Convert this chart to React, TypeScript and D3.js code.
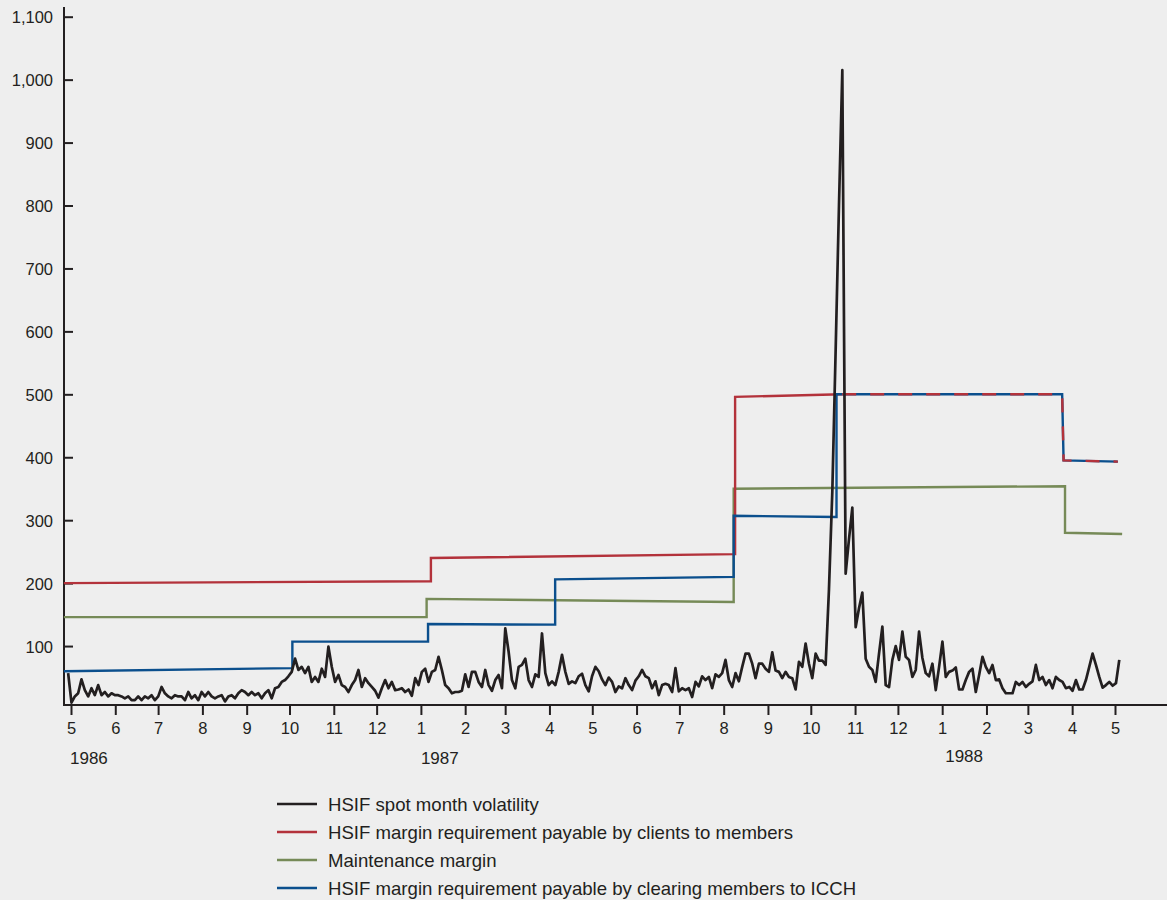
import React, { useEffect, useRef } from 'react';
import * as d3 from 'd3';

const WIDTH = 1167;
const HEIGHT = 900;

const yTicks = [100, 200, 300, 400, 500, 600, 700, 800, 900, 1000, 1100];

const yearLabels = [
  { label: '1986', date: '1986-05-01' },
  { label: '1987', date: '1987-01-01' },
  { label: '1988', date: '1988-01-01' },
];

const seriesNames = [
  'HSIF spot month volatility',
  'HSIF margin requirement payable by clients to members',
  'Maintenance margin',
  'HSIF margin requirement payable by clearing members to ICCH',
];

const volatilityFrom = '1986-04-29';
const volatilityTo = '1988-05-04';
const volatility = [
  57, 10, 20, 25, 47, 30, 20, 33, 22, 38,
  22, 27, 20, 25, 22, 22, 20, 17, 20, 14,
  14, 20, 14, 20, 17, 22, 14, 20, 35, 25,
  20, 17, 22, 20, 20, 14, 27, 17, 22, 14,
  27, 20, 27, 20, 17, 20, 22, 12, 20, 22,
  17, 25, 30, 27, 22, 27, 22, 25, 17, 25,
  30, 17, 33, 35, 43,
  46, 52, 59, 80, 62, 67, 57, 67, 43, 51,
  43, 64, 51, 99, 67, 43, 54, 38, 35, 27,
  38, 46, 62, 35, 49, 41, 35, 29, 18, 33,
  46, 33, 43, 30, 31, 33, 27, 31, 21, 49,
  38, 59, 64, 43, 59, 62, 83, 62, 38, 33,
  25, 27, 27, 29, 55, 35, 59, 59, 43, 35,
  62, 38, 29, 46, 54,
  33, 128, 91, 46, 33, 67, 70, 80, 46, 35,
  55, 51, 120, 57, 38, 44, 38, 59, 86, 59,
  40, 44, 41, 52, 56, 38, 28, 52, 67, 60,
  47, 38, 50, 43, 27, 36, 33, 49, 38, 30,
  45, 52, 62, 52, 49, 33, 44, 22, 38, 40,
  38, 27, 65, 28, 33, 30, 33, 19, 43, 36,
  52, 46, 51, 33, 55, 51,
  57, 78, 46, 35, 57, 44, 67, 88, 88, 72,
  49, 72, 72, 64, 59, 90, 61, 59, 49, 59,
  51, 49, 31, 75, 67, 104, 72, 49, 88, 77,
  77, 70, 190, 345, 570, 800, 1015, 215, 270, 320,
  130, 160, 185, 80, 67, 62, 43, 88, 131, 38,
  35, 78, 100, 78, 123, 83, 78,
  51, 62, 123, 81, 57, 52, 72, 30, 67, 107,
  51, 59, 61, 66, 31, 31, 46, 59, 64, 27,
  54, 83, 67, 57, 70, 46, 47, 33, 25, 25,
  25, 43, 38, 43, 35, 40, 44, 70, 46, 51,
  38, 46, 33, 51, 46, 43, 33, 35, 29, 46,
  31, 31, 46, 67, 88, 70, 51, 34, 38, 43,
  37, 41, 78,
];

const clientsMargin: [string, number][] = [
  ['1986-04-26', 200], ['1987-01-08', 203], ['1987-01-08', 240],
  ['1987-08-09', 246], ['1987-08-09', 496], ['1987-10-23', 500],
  ['1988-03-25', 500], ['1988-03-26', 395], ['1988-05-03', 393],
];

const maintenanceMargin: [string, number][] = [
  ['1986-04-26', 146], ['1987-01-05', 146], ['1987-01-05', 175],
  ['1987-08-08', 170], ['1987-08-08', 350], ['1988-03-27', 354],
  ['1988-03-27', 280], ['1988-05-06', 278],
];

const clearingMargin: [string, number][] = [
  ['1986-04-26', 60], ['1986-10-03', 65], ['1986-10-03', 107],
  ['1987-01-06', 107], ['1987-01-06', 135], ['1987-04-05', 134],
  ['1987-04-05', 206], ['1987-08-08', 210], ['1987-08-08', 307],
  ['1987-10-19', 305], ['1987-10-19', 500], ['1988-03-25', 500],
  ['1988-03-26', 395], ['1988-05-03', 393],
];

// from here on the clients line runs on top of the clearing line
const overlapFrom = '1987-10-23';

const App: React.FC = () => {
  const svgRef = useRef<SVGSVGElement>(null);

  useEffect(() => {
    if (!svgRef.current) return;
    document.body.style.margin = '0';

    const font = "'Liberation Sans', Arial, Helvetica, sans-serif";
    const ink = '#231f20';
    const colors = [ink, '#b3323b', '#768a57', '#0b4f8d'];

    const svg = d3.select(svgRef.current);
    svg.selectAll('*').remove();

    const parse = d3.timeParse('%Y-%m-%d');
    const x = d3.scaleTime()
      .domain([parse('1986-05-01')!, parse('1988-05-01')!])
      .range([71, 1115]);
    const y = d3.scaleLinear().domain([0, 1100]).range([709, 16.7]);

    const axisLeftX = 64;
    const axisBottomY = 705;

    type Pt = [Date, number];
    const line = d3.line<Pt>().x(d => x(d[0])).y(d => y(d[1]));
    const toPts = (arr: [string, number][]) => arr.map(([d, v]) => [parse(d)!, v] as Pt);

    const t0 = parse(volatilityFrom)!.getTime();
    const t1 = parse(volatilityTo)!.getTime();
    const volPts: Pt[] = volatility.map((v, i) => [
      new Date(t0 + ((t1 - t0) * i) / (volatility.length - 1)), v,
    ]);

    // y axis
    const yAxis = svg.append('g')
      .attr('transform', `translate(${axisLeftX},0)`)
      .call(d3.axisLeft(y).tickValues(yTicks).tickSize(-9).tickPadding(11)
        .tickFormat(d => d3.format(',')(d as number)));
    yAxis.select('.domain').remove();
    yAxis.selectAll('line').attr('stroke', ink).attr('stroke-width', 2);
    yAxis.selectAll('text')
      .attr('dy', '0.37em')
      .style('font-family', font).style('font-size', '16.5px').attr('fill', ink);

    svg.append('line')
      .attr('x1', axisLeftX).attr('x2', axisLeftX)
      .attr('y1', 7).attr('y2', axisBottomY + 1)
      .attr('stroke', ink).attr('stroke-width', 2);

    // x axis
    const months = d3.timeMonth.range(parse('1986-05-01')!, parse('1988-05-02')!);
    const xAxis = svg.append('g')
      .attr('transform', `translate(0,${axisBottomY})`)
      .call(d3.axisBottom(x).tickValues(months).tickSize(10).tickPadding(7)
        .tickFormat(d => String((d as Date).getMonth() + 1)));
    xAxis.select('.domain').remove();
    xAxis.selectAll('line').attr('stroke', ink).attr('stroke-width', 2);
    xAxis.selectAll('text')
      .style('font-family', font).style('font-size', '16.5px').attr('fill', ink);

    svg.append('line')
      .attr('x1', axisLeftX - 1).attr('x2', WIDTH)
      .attr('y1', axisBottomY).attr('y2', axisBottomY)
      .attr('stroke', ink).attr('stroke-width', 2);

    svg.selectAll('.year')
      .data(yearLabels)
      .enter()
      .append('text')
      .attr('class', 'year')
      .attr('x', (d, i) => x(parse(d.date)!) + (i === 0 ? -1 : i === 2 ? 3 : 0))
      .attr('y', (d, i) => (i === 2 ? 762 : 764))
      .style('font-family', font).style('font-size', '17px')
      .attr('fill', ink)
      .text(d => d.label);

    // margin lines
    const drawLine = (pts: Pt[], color: string, dash?: string) => {
      svg.append('path')
        .datum(pts)
        .attr('fill', 'none')
        .attr('stroke', color)
        .attr('stroke-width', 2.4)
        .attr('stroke-dasharray', dash ?? null)
        .attr('d', line);
    };

    const cut = parse(overlapFrom)!.getTime();
    const clients = toPts(clientsMargin);
    drawLine(toPts(maintenanceMargin), colors[2]);
    drawLine(clients.filter(d => d[0].getTime() <= cut), colors[1]);
    drawLine(toPts(clearingMargin), colors[3]);
    drawLine(clients.filter(d => d[0].getTime() >= cut), colors[1], '14 14');

    // volatility
    svg.append('path')
      .datum(volPts)
      .attr('fill', 'none')
      .attr('stroke', ink)
      .attr('stroke-width', 2.7)
      .attr('stroke-linejoin', 'round')
      .attr('d', line);

    // legend
    const legend = svg.append('g').attr('transform', 'translate(277,804)');
    const item = legend.selectAll('g')
      .data(seriesNames)
      .enter()
      .append('g')
      .attr('transform', (d, i) => `translate(0,${i * 28})`);
    item.append('line')
      .attr('x1', 0).attr('x2', 40)
      .attr('stroke', (d, i) => colors[i])
      .attr('stroke-width', 2.4);
    item.append('text')
      .attr('x', 51)
      .attr('dy', '0.36em')
      .style('font-family', font).style('font-size', '18.6px')
      .attr('fill', ink)
      .text(d => d);
  }, []);

  return (
    <svg
      ref={svgRef}
      width={WIDTH}
      height={HEIGHT}
      viewBox={`0 0 ${WIDTH} ${HEIGHT}`}
      style={{ display: 'block', background: '#eeeeee' }}
    />
  );
};

export default App;
